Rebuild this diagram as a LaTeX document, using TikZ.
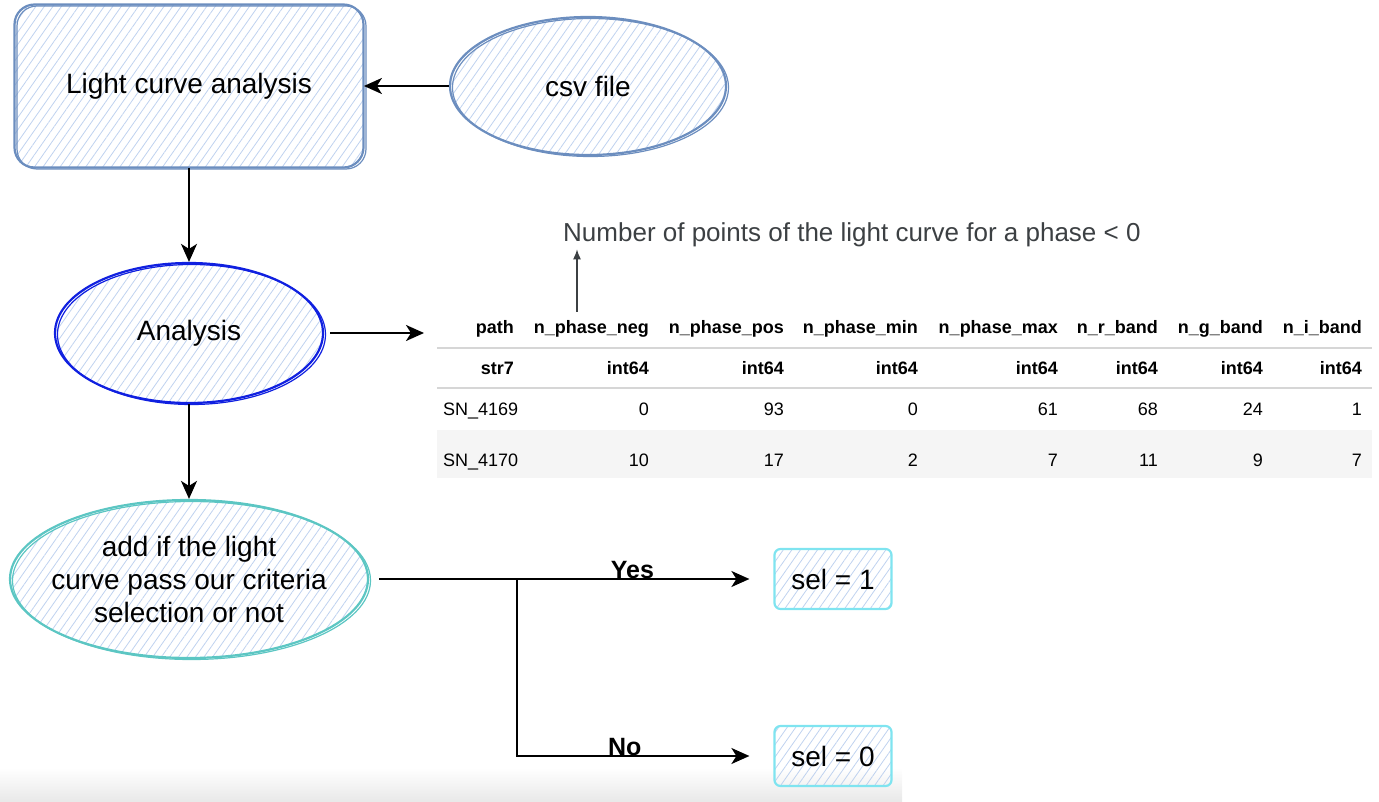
\documentclass[tikz,border=0pt]{standalone}
\usepackage{fontspec}
\setmainfont{Liberation Sans}
\usetikzlibrary{shapes.geometric,arrows.meta,patterns.meta}

\definecolor{boxblue}{HTML}{6C8EBF}
\definecolor{hatchblue}{HTML}{BFD2EF}
\definecolor{deepblue}{HTML}{1020E0}
\definecolor{critteal}{HTML}{5CC6C3}
\definecolor{selcyan}{HTML}{7FE4F0}
\definecolor{notegray}{HTML}{3C4043}
\definecolor{rowgray}{HTML}{F5F5F5}
\definecolor{rulegray}{HTML}{D6D6D6}

\begin{document}
\begin{tikzpicture}[x=1pt, y=-1pt, every node/.style={font=\fontsize{28}{33}\selectfont}, >={Stealth[length=18pt,width=16pt,inset=5pt]},
	hatched/.style={pattern={Lines[angle=55,distance=7pt,line width=0.8pt]}, pattern color=hatchblue},
	sketch/.style={line width=2.2pt, postaction={draw, line width=1.2pt, transform canvas={shift={(2.5pt,-1.5pt)}}}},
	flow/.style={->, line width=2pt},
	branch/.style={anchor=base, inner sep=0pt, yshift=1pt, font=\fontsize{25}{30}\selectfont\bfseries},
	cell/.style={font=\fontsize{18}{22}\selectfont, inner sep=0pt},
	hcell/.style={cell, font=\fontsize{18}{22}\selectfont\bfseries}]
	\useasboundingbox (0,0) rectangle (1379,802);
	\shade[top color=white, bottom color=black!9] (0,768) rectangle (902,802);
	% flow chart
	\node[draw=boxblue, sketch, hatched, rounded corners=20pt, minimum width=349pt, minimum height=163pt] (lca) at (189,86) {Light curve analysis};
	\node[ellipse, draw=boxblue, sketch, hatched, minimum width=276pt, minimum height=138pt] (csv) at (588,86) {csv file};
	\node[ellipse, draw=deepblue, sketch, hatched, minimum width=268pt, minimum height=140pt] (ana) at (189,333) {Analysis};
	\node[ellipse, draw=critteal, sketch, hatched, minimum width=358pt, minimum height=158pt,
		label={[align=center]center:add if the light\\curve pass our criteria\\selection or not}] (crit) at (189,579) {};
	\node[draw=selcyan, line width=2.2pt, hatched, rounded corners=6pt, minimum width=117pt, minimum height=60pt] (sel1) at (833,579) {sel = 1};
	\node[draw=selcyan, line width=2.2pt, hatched, rounded corners=6pt, minimum width=117pt, minimum height=60pt] (sel0) at (833,756) {sel = 0};
	\coordinate (tblin) at (424,333);
	\coordinate (split) at (517,579);
	\draw[flow] (csv) -- (lca);
	\draw[flow] (lca) -- (ana);
	\draw[flow] (ana) -- (crit);
	\draw[flow] ([xshift=6pt]ana.east) -- (tblin);
	\draw[line width=2pt] ([xshift=10pt]crit.east) -- (split);
	\draw[flow, shorten >=24pt] (split) -- node[pos=0.45, branch] {Yes} (sel1);
	\draw[flow, shorten >=24pt] (split) |- node[pos=0.71, branch] {No} (sel0);
	% output table
	\fill[rowgray] (437,430) rectangle (1372,478);
	\draw[rulegray, line width=2pt] (437,348) -- (1372,348) (437,388) -- (1372,388);
	\foreach \name/\x [count=\i] in {path/514, n\_phase\_neg/649, n\_phase\_pos/784, n\_phase\_min/918, n\_phase\_max/1058, n\_r\_band/1158, n\_g\_band/1263, n\_i\_band/1362}
		\node[hcell, anchor=base east] (hd\i) at (\x,334) {\name};
	\foreach \name/\x [count=\i] in {str7/514, int64/649, int64/784, int64/918, int64/1058, int64/1158, int64/1263, int64/1362}
		\node[hcell, anchor=base east] (ty\i) at (\x,374) {\name};
	\node[cell, anchor=base west] (ra1) at (443,415) {SN\_4169};
	\foreach \v/\x [count=\i] in {0/649, 93/784, 0/918, 61/1058, 68/1158, 24/1263, 1/1362}
		\node[cell, anchor=base east] (ra\i) at (\x,415) {\v};
	\node[cell, anchor=base west] (rb1) at (443,466) {SN\_4170};
	\foreach \v/\x [count=\i] in {10/649, 17/784, 2/918, 7/1058, 11/1158, 9/1263, 7/1362}
		\node[cell, anchor=base east] (rb\i) at (\x,466) {\v};
	% column note
	\node[text=notegray, font=\fontsize{26}{30}\selectfont, anchor=west, inner sep=2pt] (note) at (561,235) {Number of points of the light curve for a phase < 0};
	\coordinate (notefoot) at (577,312);
	\draw[-{Latex[length=10pt,width=8pt]}, line width=1.3pt, notegray] (notefoot) -- (notefoot |- note.south);
\end{tikzpicture}
\end{document}
